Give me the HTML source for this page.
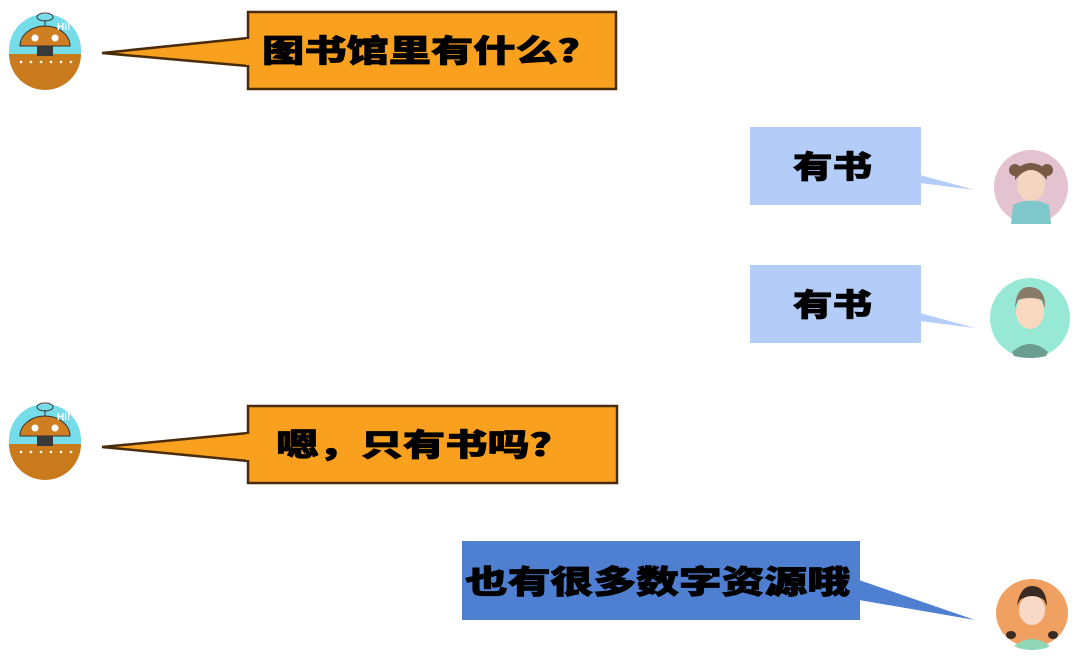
<!DOCTYPE html>
<html><head><meta charset="utf-8"><style>
html,body{margin:0;padding:0;background:#fff;width:1080px;height:658px;overflow:hidden}
svg text{font-family:"Liberation Sans","Noto Sans CJK SC","WenQuanYi Zen Hei",sans-serif;font-weight:900;fill:#000;stroke:#000;stroke-width:0.8}
</style></head><body>
<svg width="1080" height="658" viewBox="0 0 1080 658" xmlns="http://www.w3.org/2000/svg">
<defs>
<g id="robot">
<circle cx="0" cy="0" r="36" fill="#74DDE9"/>
<path d="M-36 4 L36 4 A36 36 0 0 1 -36 4 Z" fill="#C87A1C"/>
<rect x="-8" y="-6" width="16" height="12" fill="#3a3a3a"/>
<path d="M-25 -4 A25 20 0 0 1 25 -4 Z" fill="#D07E22" stroke="#333" stroke-width="1"/>
<circle cx="-10" cy="-12" r="3.5" fill="#fff"/><circle cx="10" cy="-12" r="3.5" fill="#fff"/>
<line x1="0" y1="-24" x2="0" y2="-30" stroke="#333"/>
<ellipse cx="0" cy="-33" rx="8" ry="4" fill="none" stroke="#333"/>
<text x="12" y="-20" style="font-size:10px;fill:#fff;stroke:none">Hi!</text>
<g fill="#fff"><circle cx="-24" cy="12" r="1.3"/><circle cx="-14" cy="12" r="1.3"/><circle cx="-4" cy="12" r="1.3"/><circle cx="6" cy="12" r="1.3"/><circle cx="16" cy="12" r="1.3"/><circle cx="26" cy="12" r="1.3"/></g>
</g>
</defs>
<!-- row 1 -->
<use href="#robot" x="45" y="50"/>
<path d="M248 38 L102 53 L248 66" fill="#F9A11F" stroke="#4a2c0a" stroke-width="2.5"/>
<rect x="248" y="12" width="368" height="77" fill="#F9A11F" stroke="#4a2c0a" stroke-width="2.5"/>
<rect x="246" y="39" width="4" height="26" fill="#F9A11F"/>
<text x="262" y="62" textLength="338" lengthAdjust="spacingAndGlyphs" style="font-size:31px">图书馆里有什么？</text>
<!-- row 2 -->
<rect x="750" y="127" width="171" height="78" fill="#B4CDF8"/>
<path d="M920 175 L975 190 L920 183 Z" fill="#B4CDF8"/>
<text x="793" y="178" textLength="79" lengthAdjust="spacingAndGlyphs" style="font-size:31px">有书</text>
<circle cx="1031" cy="187" r="37" fill="#E4C3D1"/>
<path d="M1011 224 L1013 205 Q1031 196 1049 205 L1051 224 Z" fill="#7EC8CC"/>
<ellipse cx="1031" cy="185" rx="14" ry="16" fill="#F5D5C0"/>
<path d="M1015 180 Q1031 160 1047 180 L1047 170 Q1031 156 1015 170Z" fill="#7a5a45"/>
<circle cx="1015" cy="170" r="6" fill="#7a5a45"/><circle cx="1047" cy="170" r="6" fill="#7a5a45"/>
<!-- row 3 -->
<rect x="750" y="265" width="171" height="78" fill="#B4CDF8"/>
<path d="M920 313 L975 328 L920 321 Z" fill="#B4CDF8"/>
<text x="793" y="316" textLength="79" lengthAdjust="spacingAndGlyphs" style="font-size:31px">有书</text>
<circle cx="1030" cy="318" r="40" fill="#98E8D6"/>
<path d="M1012 352 Q1030 336 1048 352 L1046 356 Q1030 360 1014 356Z" fill="#6B9E8E"/>
<ellipse cx="1030" cy="312" rx="14" ry="17" fill="#F8D9C0"/>
<path d="M1015 308 Q1016 286 1030 287 Q1046 288 1045 308 L1042 300 Q1030 296 1018 300Z" fill="#8a7a6a"/>
<!-- row 4 -->
<use href="#robot" x="45" y="440"/>
<path d="M248 433 L102 447 L248 461" fill="#F9A11F" stroke="#4a2c0a" stroke-width="2.5"/>
<rect x="248" y="406" width="369" height="77" fill="#F9A11F" stroke="#4a2c0a" stroke-width="2.5"/>
<rect x="246" y="434" width="4" height="26" fill="#F9A11F"/>
<text x="276" y="456" textLength="296" lengthAdjust="spacingAndGlyphs" style="font-size:31px">嗯，只有书吗？</text>
<!-- row 5 -->
<rect x="462" y="541" width="398" height="79" fill="#4F7FD0"/>
<path d="M859 580 L975 620 L859 600 Z" fill="#4F7FD0"/>
<text x="465" y="593" textLength="385" lengthAdjust="spacingAndGlyphs" style="font-size:32px">也有很多数字资源哦</text>
<ellipse cx="1032" cy="613" rx="36" ry="34" fill="#F0A060"/>
<path d="M1014 646 Q1032 632 1050 646 L1046 648 Q1032 652 1018 648Z" fill="#8ED8B8"/>
<ellipse cx="1032" cy="610" rx="13" ry="15" fill="#F8D9C8"/>
<path d="M1017 606 Q1020 586 1032 586 Q1046 586 1047 606 L1044 600 Q1032 592 1020 600Z" fill="#3a2a22"/>
<ellipse cx="1011" cy="635" rx="5" ry="4" fill="#3a2a22"/><ellipse cx="1053" cy="635" rx="5" ry="4" fill="#3a2a22"/>
</svg>
</body></html>
